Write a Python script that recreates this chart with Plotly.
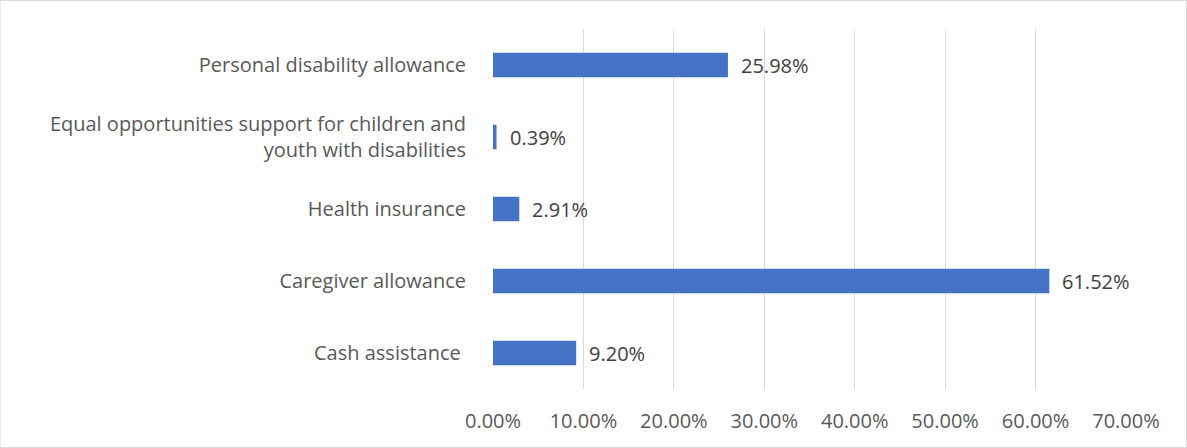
import plotly.graph_objects as go

# Benefit categories (bottom to top) and their shares in percent
categories = [
    "Cash assistance ",
    "Caregiver allowance",
    "Health insurance",
    "Equal opportunities support for children and<br>youth with disabilities",
    "Personal disability allowance",
]
shares = [9.20, 61.52, 2.91, 0.39, 25.98]
x_ticks = [0, 10, 20, 30, 40, 50, 60, 70]
x_tick_labels = [f"{v:.2f}%" for v in x_ticks]

FONT = "Open Sans, Calibri, Carlito, sans-serif"
FSIZE = 20
BAR_COLOR = "#4472C4"

fig = go.Figure(
    go.Bar(
        x=shares,
        y=categories,
        orientation="h",
        marker=dict(color=BAR_COLOR, line=dict(width=0)),
        width=0.34,
        hoverinfo="x+y",
    )
)

# Value labels to the right of each bar
for cat, val in zip(categories, shares):
    fig.add_annotation(
        x=val, y=cat, text=f"{val:.2f}%", showarrow=False,
        xanchor="left", yanchor="middle", xshift=11,
        font=dict(family=FONT, size=FSIZE, color="#404040"),
    )

fig.update_layout(
    width=1187, height=448,
    margin=dict(l=493, r=61, t=29, b=59),
    paper_bgcolor="white", plot_bgcolor="white",
    showlegend=False,
    font=dict(family=FONT, size=FSIZE, color="#595959"),
    shapes=[dict(type="rect", xref="paper", yref="paper",
                 x0=-493/633, x1=1+60.5/633, y0=-58.5/360, y1=1+28.5/360,
                 line=dict(color="#D9D9D9", width=1))],
)
fig.update_xaxes(
    range=[0, 70], tickvals=x_ticks, ticktext=x_tick_labels,
    showgrid=True, gridcolor="#D9D9D9", gridwidth=1,
    zeroline=False, showline=False, ticks="",
    ticklabelstandoff=18,
    tickfont=dict(family=FONT, size=FSIZE, color="#595959"),
)
fig.update_yaxes(
    range=[-0.5, 4.5], showgrid=False, zeroline=False, showline=False,
    ticks="", ticklabelstandoff=26,
    tickfont=dict(family=FONT, size=FSIZE, color="#595959"),
)

fig.write_html("out.html")
